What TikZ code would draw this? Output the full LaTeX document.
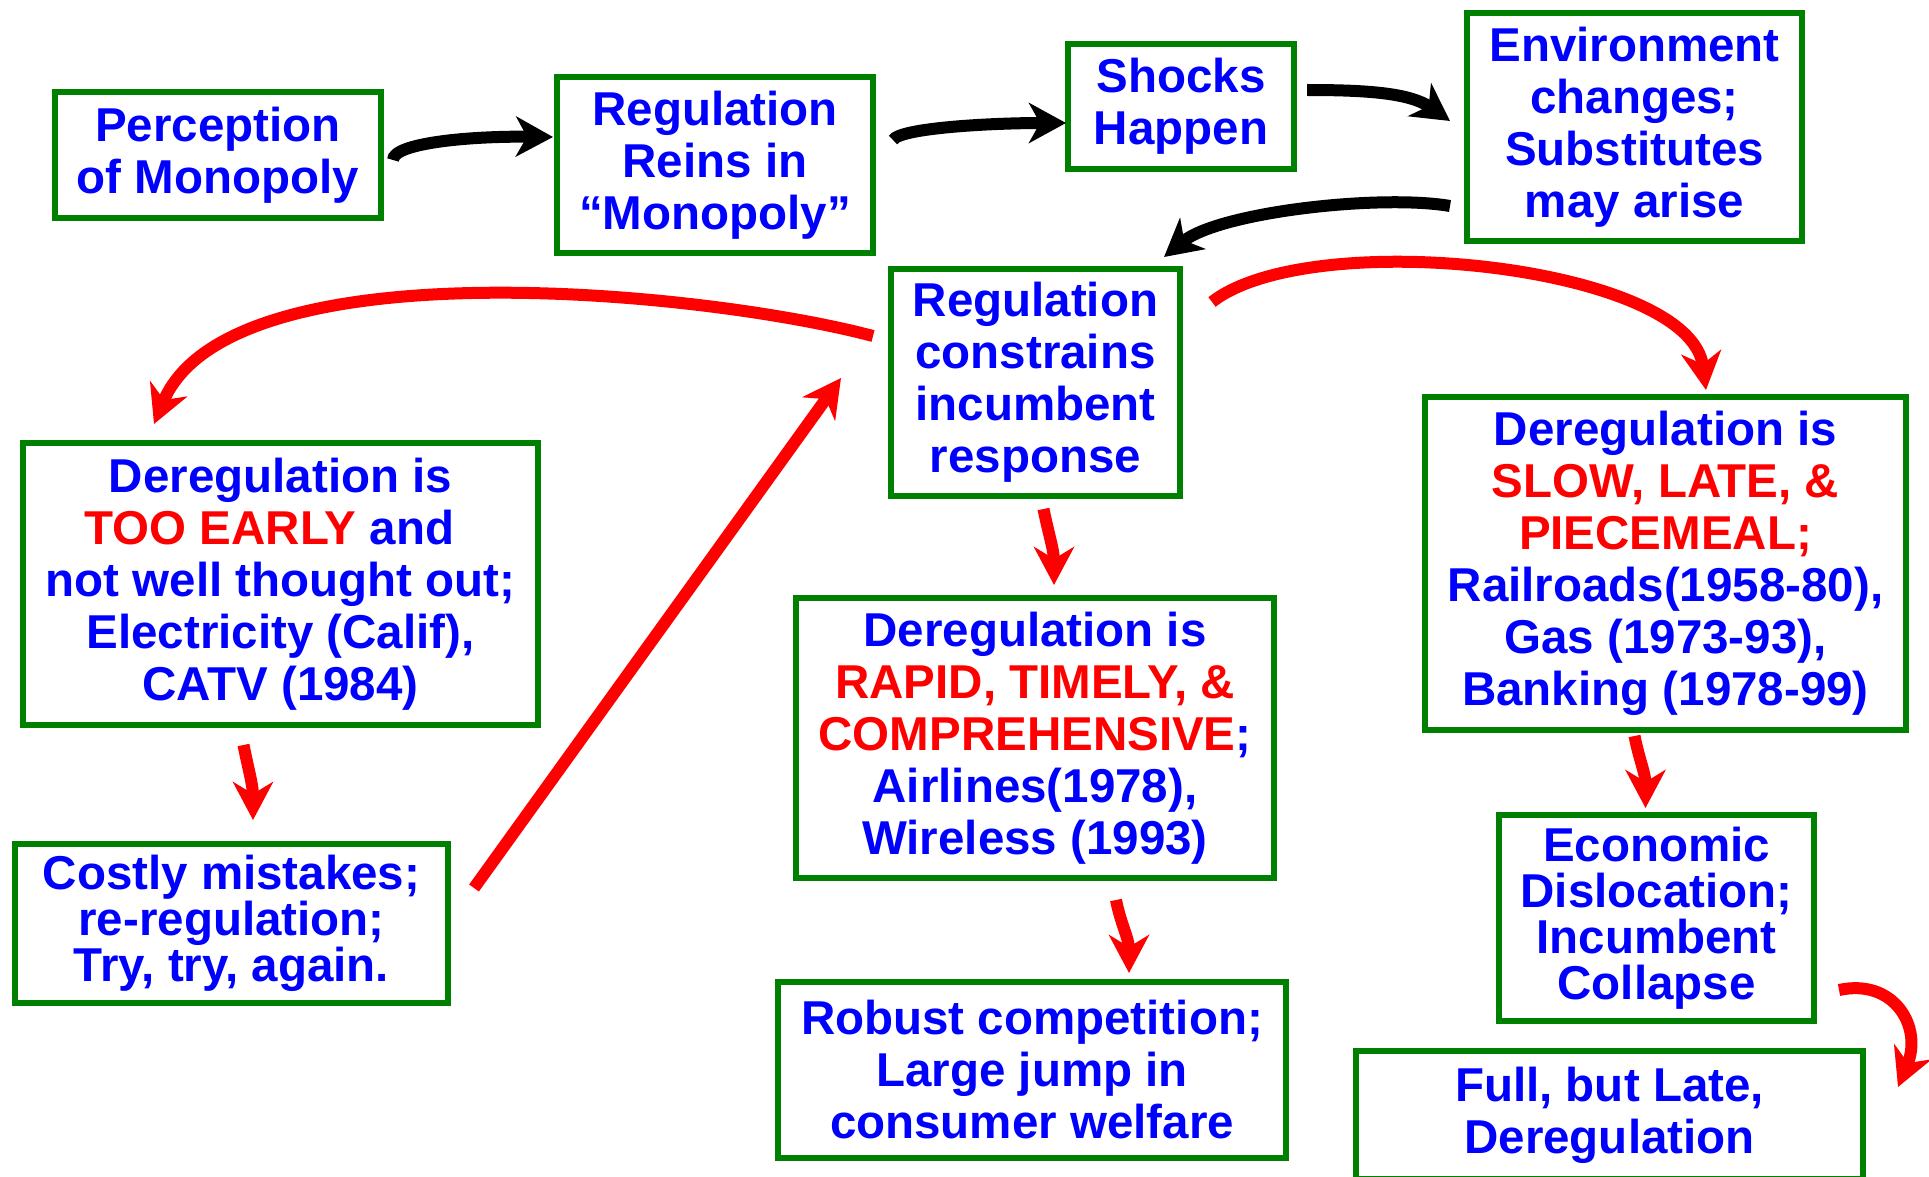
\documentclass[tikz,border=0pt]{standalone}
\usepackage{fontspec}
\setmainfont{Liberation Sans}
\usetikzlibrary{arrows.meta,calc}
\definecolor{bgreen}{RGB}{0,128,0}
\definecolor{tblue}{RGB}{0,0,255}
\definecolor{tred}{RGB}{255,0,0}
\begin{document}
\begin{tikzpicture}[x=1pt,y=-1pt,
  box/.style={draw=bgreen,line width=6pt,fill=white,inner sep=0pt,align=center,text=tblue,
    font=\fontsize{47.5pt}{52pt}\selectfont\bfseries},
  tightbox/.style={box,font=\fontsize{47.5pt}{46pt}\selectfont\bfseries},
  blk/.style={line width=12pt,black,-{Stealth[length=37pt,width=40pt,inset=11pt]}},
  redarr/.style={line width=12pt,tred,-{Stealth[length=38pt,width=40pt,inset=12pt]}}]
\useasboundingbox (0,0) rectangle (1929,1177);
\fill[white] (0,0) rectangle (1929,1177);

\node[box,minimum width=326pt,minimum height=126pt] (perc) at (218,155) {Perception\\of Monopoly};
\node[box,minimum width=316pt,minimum height=176pt] (reins) at (715,165) {Regulation\\Reins in\\“Monopoly”};
\node[box,minimum width=226pt,minimum height=125pt] (shocks) at (1181,106.5) {Shocks\\Happen};
\node[box,minimum width=335pt,minimum height=228pt] (env) at (1634.5,127) {Environment\\changes;\\Substitutes\\may arise};
\node[box,minimum width=289pt,minimum height=227pt] (cons) at (1035.5,382.5) {Regulation\\constrains\\incumbent\\response};
\node[box,minimum width=515pt,minimum height=282pt] (early) at (280.5,584) {Deregulation is\\\hspace*{-22pt}\textcolor{tred}{TOO EARLY} and\\not well thought out;\\Electricity (Calif),\\CATV (1984)};
\node[tightbox,minimum width=433pt,minimum height=159pt] (costly) at (231.5,923.5) {Costly mistakes;\\re-regulation;\\Try, try, again.};
\node[box,minimum width=478pt,minimum height=280pt] (rapid) at (1035,738) {Deregulation is\\\textcolor{tred}{RAPID, TIMELY, \&}\\\textcolor{tred}{COMPREHENSIVE};\\Airlines(1978),\\Wireless (1993)};
\node[box,minimum width=508pt,minimum height=176pt] (robust) at (1032,1070) {Robust competition;\\Large jump in\\consumer welfare};
\node[box,minimum width=481pt,minimum height=333pt] (slow) at (1665.5,563.5) {Deregulation is\\\textcolor{tred}{SLOW, LATE, \&}\\\textcolor{tred}{PIECEMEAL;}\\Railroads(1958-80),\\Gas (1973-93),\\Banking (1978-99)};
\node[tightbox,minimum width=315pt,minimum height=206pt] (econ) at (1656.5,918) {Economic\\Dislocation;\\Incumbent\\Collapse};
\node[box,minimum width=507pt,minimum height=128pt] (full) at (1609.5,1115) {Full, but Late,\\Deregulation};

% black arrows
\draw[blk] ($(perc.east)+(9,5)$) .. controls +(0,-17) and +(-83,-1) .. ($(reins.west)+(-1,-28)$);
\draw[blk] ($(reins.west)+(339,-25)$) .. controls +(7,-12) and +(-76,0) .. ($(shocks.west)+(1,16.5)$);
\draw[blk] ($(shocks.east)+(10,-16.5)$) .. controls +(60,0) and +(-40,-28) .. ($(env.west)+(-14,-6)$);
\draw[blk] ($(env.west)+(-14,79)$) .. controls +(-70,-12) and +(55,-45) .. ($(cons.north east)+(-19,-9)$);

% red arrows
\draw[redarr] ($(cons.west)+(-15,-46.5)$) .. controls +(-170,-45) and +(75,-180) .. ($(early.north west)+(134,-16)$);
\draw[redarr] ($(cons.north east)+(29,36)$) .. controls +(98,-77) and +(-16,-125) .. ($(slow.north)+(40.5,-4)$);
\draw[redarr] ($(cons.south)+(8,10)$) .. controls +(5,25) and +(0,-35) .. ($(rapid.north)+(19,-10)$);
\draw[redarr] ($(rapid.south)+(81,19)$) .. controls +(5,25) and +(0,-35) .. ($(robust.north)+(97,-6)$);
\draw[redarr] ($(early.south)+(-37,17)$) .. controls +(5,25) and +(0,-35) .. ($(costly.north)+(21.5,-21)$);
\draw[redarr] ($(slow.south)+(-31,3)$) .. controls +(5,25) and +(0,-35) .. ($(econ.north)+(-11,-4)$);
\draw[redarr] ($(costly.east)+(23,-35.5)$) -- ($(cons.west)+(-47,-4.5)$);
\draw[redarr] ($(econ.east)+(22,72)$) .. controls +(55,-12) and +(25,-60) .. ($(full.north east)+(32,39)$);
\end{tikzpicture}
\end{document}
